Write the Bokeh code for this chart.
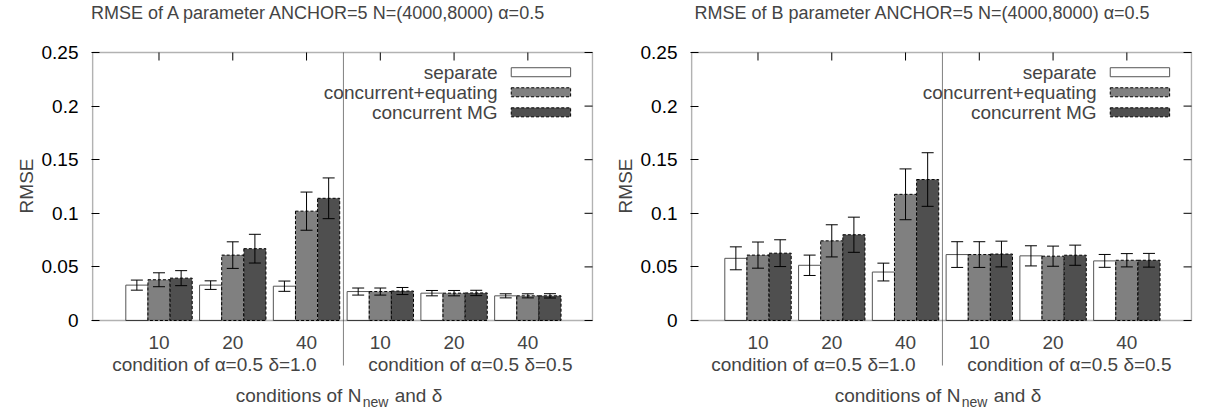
import math
from bokeh.plotting import figure
from bokeh.layouts import row
from bokeh.models import (ColumnDataSource, Whisker, TeeHead, FixedTicker, Title,
                          NumeralTickFormatter, Range1d, Label, BoxAnnotation, Arrow)
from bokeh.embed import file_html
from bokeh.resources import INLINE

# ---------------- data ----------------
categories = ["10", "20", "40", "10", "20", "40"]
condition_labels = ["condition of α=0.5 δ=1.0", "condition of α=0.5 δ=0.5"]
series_names = ["separate", "concurrent+equating", "concurrent MG"]
y_ticks = [0, 0.05, 0.1, 0.15, 0.2, 0.25]

a_separate = [0.033, 0.033, 0.032, 0.027, 0.0255, 0.023]
a_separate_err = [0.0047, 0.004, 0.0048, 0.0033, 0.0025, 0.0019]
a_equating = [0.038, 0.061, 0.102, 0.027, 0.0255, 0.023]
a_equating_err = [0.0065, 0.0124, 0.0178, 0.0033, 0.0025, 0.0019]
a_mg = [0.0395, 0.067, 0.114, 0.0275, 0.0257, 0.023]
a_mg_err = [0.007, 0.0134, 0.019, 0.0033, 0.0025, 0.002]

b_separate = [0.058, 0.0515, 0.0452, 0.0615, 0.0603, 0.0556]
b_separate_err = [0.0107, 0.0095, 0.0083, 0.012, 0.0094, 0.006]
b_equating = [0.061, 0.0743, 0.1177, 0.0615, 0.060, 0.0562]
b_equating_err = [0.0122, 0.015, 0.0237, 0.012, 0.0094, 0.0062]
b_mg = [0.0628, 0.080, 0.1315, 0.062, 0.0609, 0.0562]
b_mg_err = [0.0125, 0.0164, 0.025, 0.012, 0.0094, 0.0064]

FONT = "Liberation Sans"
FS = "19px"
STYLES = [
    dict(fill_color="white", line_color="#555555", line_dash="solid"),
    dict(fill_color="#808080", line_color="black", line_dash="3 2"),
    dict(fill_color="#4f4f4f", line_color="black", line_dash="3 2"),
]
OFFSETS = [-0.3, 0.0, 0.3]
BAR_W = 0.3
X_LO, X_HI = -0.9, 5.877          # drawn frame box (x)
Y_LO, Y_HI = 0.0, 0.25            # drawn frame box (y)


def make_panel(title, title_x, series, errors, width, border_left, border_right):
    p = figure(width=width, height=410, output_backend="svg", toolbar_location=None,
               x_range=Range1d(-0.915, 5.89), y_range=Range1d(-0.08396, 0.29851),
               x_axis_location=None,
               min_border_left=border_left, min_border_right=border_right,
               min_border_top=0, min_border_bottom=0)
    p.grid.visible = False
    p.outline_line_color = None
    p.background_fill_color = "white"
    p.border_fill_color = "white"

    n = len(categories)
    idx = list(range(n))

    # title
    p.add_layout(Label(x=title_x, y=0.2864, text=title, text_align="center",
                       text_baseline="middle", text_font=FONT, text_font_size="18px"))

    # y axis (left)
    ya = p.yaxis[0]
    ya.ticker = FixedTicker(ticks=y_ticks)
    ya.formatter = NumeralTickFormatter(format="0.[00]")
    ya.major_tick_in = 8
    ya.major_tick_out = 0
    ya.major_tick_line_color = "black"
    ya.minor_tick_line_color = None
    ya.axis_line_color = None
    ya.major_label_standoff = 13
    ya.major_label_text_font = FONT
    ya.major_label_text_font_size = FS
    ya.major_label_text_color = "black"

    # y axis title on the left, positioned from the top of the frame
    p.add_layout(Title(text="RMSE", align="right", offset=158, text_font=FONT,
                       text_font_size=FS, text_font_style="normal", standoff=4), "left")

    # frame box
    p.add_layout(BoxAnnotation(left=X_LO, right=X_HI, bottom=Y_LO, top=Y_HI,
                               fill_color=None, line_color="black", line_width=1.5,
                               level="overlay"))
    # mirrored ticks (right and top)
    p.ray(x=[X_HI] * len(y_ticks), y=y_ticks, length=8, length_units="screen",
          angle=math.pi, line_color="black", line_width=1)
    p.ray(x=idx, y=[Y_HI] * n, length=8, length_units="screen",
          angle=-math.pi / 2, line_color="black", line_width=1)

    # bars
    for k in range(3):
        xs = [i + OFFSETS[k] for i in idx]
        src = ColumnDataSource(dict(x=xs, top=series[k],
                                    upper=[v + e for v, e in zip(series[k], errors[k])],
                                    lower=[v - e for v, e in zip(series[k], errors[k])]))
        p.vbar(x="x", top="top", bottom=0, width=BAR_W, source=src, line_width=1,
               **STYLES[k])
        w = Whisker(base="x", upper="upper", lower="lower", source=src,
                    line_color="black", line_width=1, level="annotation",
                    upper_head=TeeHead(size=12, line_color="black", line_width=1),
                    lower_head=TeeHead(size=12, line_color="black", line_width=1))
        p.add_layout(w)

    # divider
    p.add_layout(Arrow(x_start=2.5, y_start=Y_HI, x_end=2.5, y_end=-0.042,
                       start=None, end=None, line_color="#808080", line_width=1))

    # x tick labels
    for i in idx:
        p.add_layout(Label(x=i, y=-0.0205, text=categories[i], text_align="center",
                           text_baseline="middle", text_font=FONT, text_font_size=FS))

    # condition labels
    for cx, txt in zip([0.75, 4.22], condition_labels):
        p.add_layout(Label(x=cx, y=-0.0406, text=txt, text_align="center",
                           text_baseline="middle", text_font=FONT, text_font_size=FS))

    # axis title with subscript
    cx = 2.49
    yb = -0.0700
    p.add_layout(Label(x=cx, y=yb, x_offset=-107, text="conditions of N", text_align="left",
                       text_baseline="middle", text_font=FONT, text_font_size=FS))
    p.add_layout(Label(x=cx, y=yb - 0.0062, x_offset=20, text="new", text_align="left",
                       text_baseline="middle", text_font=FONT, text_font_size="14px"))
    p.add_layout(Label(x=cx, y=yb, x_offset=52, text="and δ", text_align="left",
                       text_baseline="middle", text_font=FONT, text_font_size=FS))

    # legend (label left of sample, as in reference)
    rows_y = [0.2316, 0.2129, 0.1942]
    for k in range(3):
        p.add_layout(Label(x=4.59, y=rows_y[k], text=series_names[k], text_align="right",
                           text_baseline="middle", text_font=FONT, text_font_size=FS))
        p.add_layout(BoxAnnotation(left=4.775, right=5.58, bottom=rows_y[k] - 0.0042,
                                   top=rows_y[k] + 0.0042, fill_alpha=1, line_alpha=1,
                                   line_width=1, level="annotation", **STYLES[k]))
    return p


p1 = make_panel("RMSE of A parameter ANCHOR=5 N=(4000,8000) α=0.5", 2.17,
                [a_separate, a_equating, a_mg], [a_separate_err, a_equating_err, a_mg_err],
                600, 91, 7)
p2 = make_panel("RMSE of B parameter ANCHOR=5 N=(4000,8000) α=0.5", 2.23,
                [b_separate, b_equating, b_mg], [b_separate_err, b_equating_err, b_mg_err],
                609, 90, 17)

layout = row(p1, p2)
open("out.html", "w").write(file_html(layout, INLINE))
